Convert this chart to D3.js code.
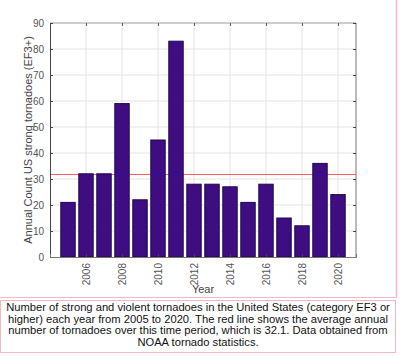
<!DOCTYPE html>
<html><head><meta charset="utf-8">
<script src="https://cdn.jsdelivr.net/npm/d3@7"></script>
<style>body{margin:0;background:#fff}svg{display:block}</style>
</head><body>
<svg id="c" width="400" height="356"></svg>
<script>
const years = [2005,2006,2007,2008,2009,2010,2011,2012,2013,2014,2015,2016,2017,2018,2019,2020];
const counts = [21,32,32,59,22,45,83,28,28,27,21,28,15,12,36,24];
const average = 32.1;
const yTicks = [0,10,20,30,40,50,60,70,80,90];
const xTicks = [2006,2008,2010,2012,2014,2016,2018,2020];
const yLabel = "Annual Count US strong tornadoes (EF3+)";
const xLabel = "Year";
const captionLines = [
  "Number of strong and violent tornadoes in the United States (category EF3 or",
  "higher) each year from 2005 to 2020. The red line shows the average annual",
  "number of tornadoes over this time period, which is 32.1. Data obtained from",
  "NOAA tornado statistics."
];

const svg = d3.select("#c");
const L=50, R=356, T=23, B=257;
const x = d3.scaleLinear().domain([2004,2021]).range([L,R]);
const y = d3.scaleLinear().domain([0,90]).range([B,T]);
const font = "'Liberation Sans', Arial, sans-serif";

svg.append("g").selectAll("line").data(yTicks.slice(1,-1)).join("line")
  .attr("x1",L).attr("x2",R).attr("y1",d=>y(d)).attr("y2",d=>y(d))
  .attr("stroke","#e3e3e3").attr("stroke-width",1);
svg.append("g").selectAll("line").data(xTicks).join("line")
  .attr("x1",d=>x(d)).attr("x2",d=>x(d)).attr("y1",T).attr("y2",B)
  .attr("stroke","#e3e3e3").attr("stroke-width",1);

const ay = Math.round(y(average)) + 0.5;
svg.append("line").attr("x1",L).attr("x2",R).attr("y1",ay).attr("y2",ay)
  .attr("stroke","#ff5c66").attr("stroke-width",1);

const bw = (x(2006)-x(2005))*0.8;
svg.append("g").selectAll("rect").data(years).join("rect")
  .attr("x",(d)=>x(d)-bw/2).attr("width",bw)
  .attr("y",(d,i)=>y(counts[i])).attr("height",(d,i)=>y(0)-y(counts[i]))
  .attr("fill","#3f0d82").attr("stroke","#1c0848").attr("stroke-width",1);

svg.append("g").selectAll("line").data(years.filter((d,i)=>counts[i]>average)).join("line")
  .attr("x1",d=>x(d)-bw/2+1).attr("x2",d=>x(d)+bw/2-1).attr("y1",ay).attr("y2",ay)
  .attr("stroke","#2a10b0").attr("stroke-opacity",0.7).attr("stroke-width",1);

svg.append("line").attr("x1",L).attr("x2",R).attr("y1",T).attr("y2",T).attr("stroke","#bdbdbd").attr("stroke-width",1.5);
svg.append("line").attr("x1",R).attr("x2",R).attr("y1",T).attr("y2",B).attr("stroke","#777").attr("stroke-width",1);

const yAxis = d3.axisLeft(y).tickValues(yTicks).tickSize(-3).tickPadding(6);
const gy = svg.append("g").attr("transform",`translate(${L},0)`).call(yAxis);
gy.select(".domain").attr("stroke","#444");
gy.selectAll(".tick line").attr("stroke","#444");
gy.selectAll("text").attr("font-family",font).attr("font-size",10).attr("fill","#555");

const yAxisR = d3.axisRight(y).tickValues(yTicks).tickSize(-3).tickFormat("");
const gyr = svg.append("g").attr("transform",`translate(${R},0)`).call(yAxisR);
gyr.select(".domain").remove();
gyr.selectAll(".tick line").attr("stroke","#444");

const xAxis = d3.axisBottom(x).tickValues(xTicks).tickSize(-3).tickFormat(d3.format("d"));
const gx = svg.append("g").attr("transform",`translate(0,${B})`).call(xAxis);
gx.select(".domain").attr("stroke","#777");
gx.selectAll(".tick line").attr("stroke","#444");
gx.selectAll(".tick text").attr("font-family",font).attr("font-size",10).attr("fill","#555")
  .attr("transform","rotate(-90)").attr("text-anchor","end").attr("x",-6).attr("y",0).attr("dy","0.35em");

const xAxisT = d3.axisTop(x).tickValues(xTicks).tickSize(-3).tickFormat("");
const gxt = svg.append("g").attr("transform",`translate(0,${T})`).call(xAxisT);
gxt.select(".domain").remove();
gxt.selectAll(".tick line").attr("stroke","#666");

svg.append("text").attr("transform",`translate(28,${(T+B)/2}) rotate(-90)`)
  .attr("text-anchor","middle").attr("dy","0.35em").attr("font-family",font).attr("font-size",11).attr("fill","#444").text(yLabel);
svg.append("text").attr("x",(L+R)/2).attr("y",293).attr("text-anchor","middle")
  .attr("font-family",font).attr("font-size",11).attr("fill","#444").text(xLabel);

svg.append("line").attr("x1",396.5).attr("x2",396.5).attr("y1",0).attr("y2",298).attr("stroke","#f4b8c2").attr("stroke-width",1.5);
svg.append("line").attr("x1",0).attr("x2",397).attr("y1",297.5).attr("y2",297.5).attr("stroke","#f4b8c2").attr("stroke-width",1);
svg.append("rect").attr("x",0.5).attr("y",300.5).attr("width",395).attr("height",52).attr("fill","none").attr("stroke","#f4b8c2").attr("stroke-width",1);

svg.append("g").selectAll("text").data(captionLines).join("text")
  .attr("x",198).attr("y",(d,i)=>311+i*11.5).attr("text-anchor","middle")
  .attr("font-family",font).attr("font-size",11.2).attr("fill","#111").text(d=>d);
</script>
</body></html>
